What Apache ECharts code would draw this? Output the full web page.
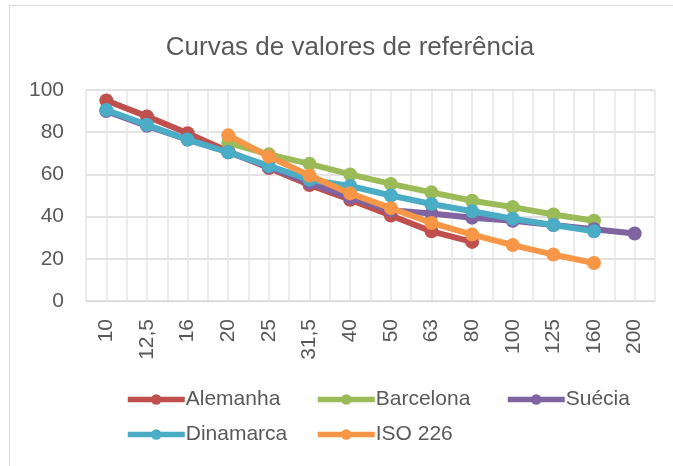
<!DOCTYPE html>
<html><head><meta charset="utf-8">
<script src="https://cdn.jsdelivr.net/npm/echarts@6/dist/echarts.min.js"></script>
<style>html,body{margin:0;padding:0;background:#fff}#c{width:673px;height:466px}</style>
</head><body><div id="c"></div>
<script>
var categories = ['10','12,5','16','20','25','31,5','40','50','63','80','100','125','160','200'];
var alemanha  = [95, 87.5, 79.5, 71, 63, 55, 48, 40.5, 33, 28, null, null, null, null];
var barcelona = [null, null, null, 75, 69.5, 65, 60, 55.5, 51.5, 47.5, 44.5, 41, 38, null];
var suecia    = [90, 83, 76.5, 70.5, 63.5, 56, 49, 43, 41.5, 39.5, 38, 36, 34, 32];
var dinamarca = [90.5, 83.5, 76.5, 70.5, 64, 57.5, 54.5, 50, 46, 42.5, 39, 36, 33, null];
var iso226    = [null, null, null, 78.5, 68.5, 59.5, 51, 44, 37, 31.5, 26.5, 22, 18, null];
var yTicks = {min: 0, max: 100, interval: 20};

var names = ['Alemanha','Barcelona','Suécia','Dinamarca','ISO 226'];
var colors = ['#C0504D','#9BBB59','#8064A2','#4BACC6','#F79646'];
var datas = [alemanha, barcelona, suecia, dinamarca, iso226];
var halfCats = [];
for (var i = 0; i < categories.length * 2; i++) halfCats.push('');

var FONT = '"Liberation Sans", Arial, sans-serif';
var series = names.map(function(n, i){
  return {
    name: n, type: 'line', data: datas[i], xAxisIndex: 0,
    symbol: 'circle', symbolSize: 14,
    lineStyle: {color: colors[i], width: 6},
    itemStyle: {color: colors[i]},
    emphasis: {disabled: true},
    animation: false, z: 2 + i
  };
});
var legPos = [[125,389],[315,389],[505,389],[125,424],[315,424]];
var legends = names.map(function(n, i){
  return {
    data: [n], left: legPos[i][0], top: legPos[i][1], padding: 0,
    itemWidth: 57, itemHeight: 13, itemGap: 0,
    textStyle: {fontFamily: FONT, fontSize: 21, color: '#595959', padding: [0,0,0,-4]},
    lineStyle: {width: 5.5}
  };
});
var chart = echarts.init(document.getElementById('c'), null, {renderer: 'canvas'});
chart.setOption({
  animation: false,
  backgroundColor: '#fff',
  title: {text: 'Curvas de valores de referência', left: 345, top: 30, textAlign: 'center',
    textStyle: {fontFamily: FONT, fontSize: 26, fontWeight: 'normal', color: '#595959'}},
  legend: legends,
  grid: {left: 86, right: 18, top: 90, bottom: 165, containLabel: false},
  xAxis: [{
    type: 'category', data: categories, boundaryGap: true,
    axisLine: {lineStyle: {color: '#d9d9d9', width: 1}},
    axisTick: {show: false},
    splitLine: {show: false},
    axisLabel: {rotate: 90, interval: 0, margin: 18, fontFamily: FONT, fontSize: 21, color: '#595959'}
  },{
    type: 'category', data: halfCats, boundaryGap: true, position: 'bottom',
    axisLine: {show: false}, axisTick: {show: false}, axisLabel: {show: false},
    splitLine: {show: true, interval: 0, lineStyle: {color: '#e6e6e6', width: 1.5}}
  }],
  yAxis: {
    type: 'value', min: yTicks.min, max: yTicks.max, interval: yTicks.interval,
    axisLine: {show: false}, axisTick: {show: false},
    splitLine: {lineStyle: {color: '#d9d9d9', width: 1.5}},
    axisLabel: {margin: 22, fontFamily: FONT, fontSize: 21, color: '#595959'}
  },
  graphic: [{type: 'rect', shape: {x: 9.5, y: 5.5, width: 700, height: 500},
    style: {fill: null, stroke: '#d9d9d9', lineWidth: 1}, silent: true, z: -1}],
  series: series
});
</script></body></html>
